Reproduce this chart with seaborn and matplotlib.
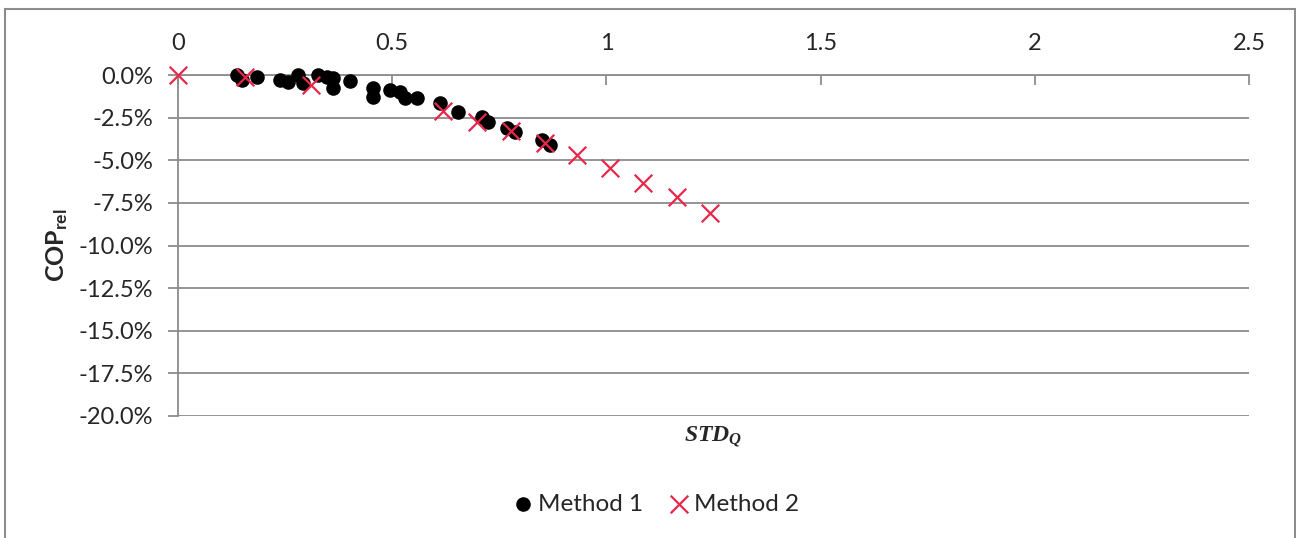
import numpy as np
import pandas as pd
import seaborn as sns
import matplotlib.pyplot as plt
from matplotlib.ticker import FuncFormatter, MultipleLocator
from matplotlib.patches import Rectangle

# Method 1 (measured points)
m1_std = [0.138, 0.149, 0.184, 0.238, 0.257, 0.280, 0.292, 0.327, 0.348, 0.362, 0.362,
          0.401, 0.455, 0.455, 0.495, 0.518, 0.530, 0.558, 0.612, 0.654, 0.710, 0.724,
          0.768, 0.787, 0.850, 0.868]
m1_cop = [0.0, -0.29, -0.12, -0.29, -0.41, 0.0, -0.47, 0.0, -0.12, -0.18, -0.76,
          -0.35, -0.76, -1.29, -0.88, -1.00, -1.35, -1.35, -1.64, -2.17, -2.46, -2.76,
          -3.11, -3.35, -3.81, -4.11]

# Method 2
m2_std = [0.0, 0.156, 0.310, 0.619, 0.698, 0.777, 0.857, 0.931, 1.008, 1.085, 1.165, 1.242]
m2_cop = [0.0, -0.10, -0.59, -2.11, -2.76, -3.29, -3.99, -4.69, -5.46, -6.34, -7.16, -8.10]

df1 = pd.DataFrame({'std': m1_std, 'cop': np.array(m1_cop) / 100, 'method': 'Method 1'})
df2 = pd.DataFrame({'std': m2_std, 'cop': np.array(m2_cop) / 100, 'method': 'Method 2'})

sns.set_theme(style='white')
plt.rcParams['font.family'] = ['Lato', 'DejaVu Sans']
plt.rcParams['mathtext.fontset'] = 'custom'
plt.rcParams['mathtext.it'] = 'Liberation Serif:italic:bold'
plt.rcParams['mathtext.rm'] = 'Lato:bold'
plt.rcParams['mathtext.bf'] = 'Lato:bold'

grey = '#8c8c8c'
red = '#e8284a'

fig = plt.figure(figsize=(12.96, 5.38), dpi=100)
ax = fig.add_axes([178 / 1296, 1 - 416 / 538, (1249 - 178) / 1296, (416 - 75) / 538])

sns.scatterplot(data=df1, x='std', y='cop', marker='o', color='black', s=110,
                edgecolor='black', linewidth=0, ax=ax, label='Method 1', zorder=3,
                clip_on=False)
sns.scatterplot(data=df2, x='std', y='cop', marker='x', color=red, s=160,
                linewidth=1.6, ax=ax, label='Method 2', zorder=4, clip_on=False)

ax.set_xlim(0, 2.5)
ax.set_ylim(-0.2, 0)
ax.xaxis.set_major_locator(MultipleLocator(0.5))
ax.yaxis.set_major_locator(MultipleLocator(0.025))
ax.xaxis.set_major_formatter(FuncFormatter(lambda v, p: f'{v:g}'))
ax.yaxis.set_major_formatter(FuncFormatter(lambda v, p: f'{v * 100:.1f}%'))

ax.xaxis.tick_top()
ax.tick_params(axis='x', direction='in', length=7, width=1.3, color=grey,
               labelsize=17, pad=15)
ax.tick_params(axis='y', direction='out', length=7, width=1.3, color=grey,
               labelsize=17, pad=11, left=True)
ax.grid(axis='y', color=grey, linewidth=1.3)
ax.set_axisbelow(True)
for side in ['right', 'bottom']:
    ax.spines[side].set_visible(False)
for side in ['left', 'top']:
    ax.spines[side].set_color(grey)
    ax.spines[side].set_linewidth(1.3)

ax.set_xlabel('')
ax.set_ylabel(r'$\mathbf{COP}_{\mathbf{rel}}$', fontsize=18, labelpad=6)
fig.text(713 / 1296, 1 - 437 / 538, r'$STD_Q$', ha='center', va='center', fontsize=17)

ax.legend_.remove()
h, l = ax.get_legend_handles_labels()
fig.legend(h, l, loc='center', bbox_to_anchor=(655 / 1296, 1 - 504 / 538), ncol=2,
           frameon=False, fontsize=17.5, handletextpad=0.1, columnspacing=1.0,
           handlelength=1.0)

fig.patches.append(Rectangle((4.5 / 1296, -0.05), (1295 - 4.5) / 1296, 1.05 - 9.5 / 538,
                             transform=fig.transFigure, fill=False, edgecolor=grey,
                             linewidth=1.5))

fig.savefig('out.png', dpi=100)
